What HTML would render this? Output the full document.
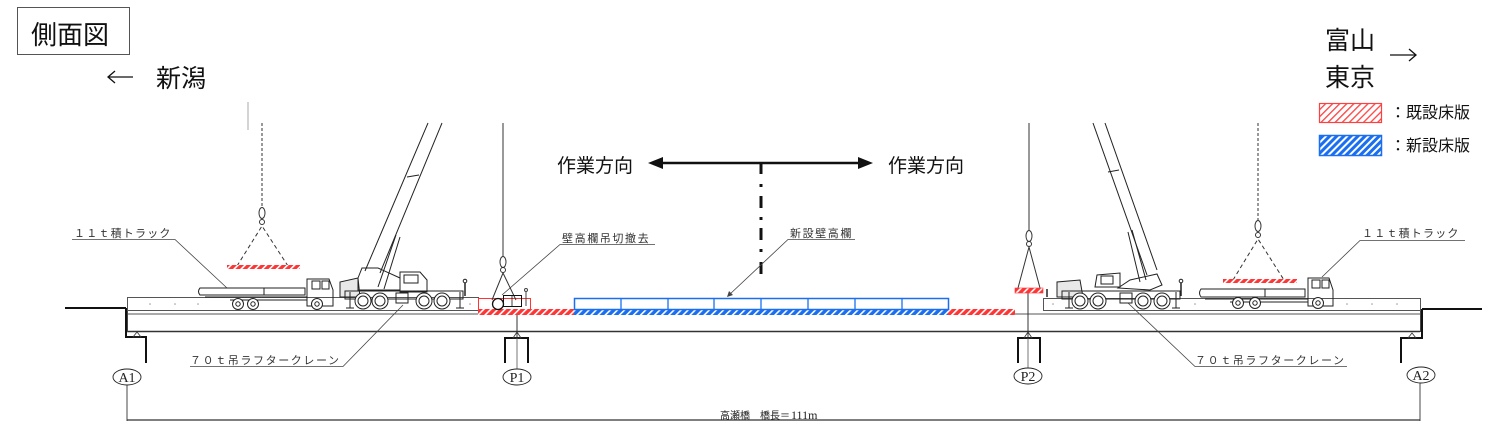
<!DOCTYPE html>
<html><head><meta charset="utf-8">
<style>
html,body{margin:0;padding:0;background:#fff;}
svg{display:block;}
.jp{font-family:"Liberation Sans","Noto Sans CJK JP",sans-serif;}
.sm{font-family:"Liberation Sans","Noto Sans CJK JP",sans-serif;font-size:11px;fill:#333;}
.ser{font-family:"Liberation Serif",serif;font-size:14px;fill:#222;}
</style></head>
<body>
<svg width="1500" height="430" viewBox="0 0 1500 430" xmlns="http://www.w3.org/2000/svg">
<defs>
 <pattern id="rl" width="5" height="5" patternUnits="userSpaceOnUse" patternTransform="rotate(45)">
  <rect width="5" height="5" fill="#fff"/><rect width="1.3" height="5" fill="#ff4040"/>
 </pattern>
 <pattern id="bl" width="5" height="5" patternUnits="userSpaceOnUse" patternTransform="rotate(45)">
  <rect width="5" height="5" fill="#fff"/><rect width="3" height="5" fill="#1a6ff0"/>
 </pattern>
 <pattern id="rd" width="5" height="5" patternUnits="userSpaceOnUse" patternTransform="rotate(45)">
  <rect width="5" height="5" fill="#ff3535"/><rect width="1.6" height="5" fill="#fff"/>
 </pattern>
 <pattern id="bd" width="5" height="5" patternUnits="userSpaceOnUse" patternTransform="rotate(45)">
  <rect width="5" height="5" fill="#1a6ff0"/><rect width="1.6" height="5" fill="#fff"/>
 </pattern>
</defs>
<rect width="1500" height="430" fill="#fff"/>

<!-- title box -->
<rect x="17.5" y="7.5" width="112" height="47" fill="none" stroke="#555" stroke-width="1"/>
<text x="31" y="44" class="jp" font-size="26" fill="#111">側面図</text>

<!-- Niigata -->
<line x1="108" y1="77" x2="133" y2="77" stroke="#111" stroke-width="1.3"/>
<polyline points="115,71 108,77 115,83" fill="none" stroke="#111" stroke-width="1.3"/>
<text x="156" y="87" class="jp" font-size="25" fill="#111">新潟</text>
<line x1="248" y1="102" x2="248" y2="130" stroke="#aaa" stroke-width="1"/>

<!-- Toyama / Tokyo -->
<text x="1325" y="49" class="jp" font-size="25" fill="#111">富山</text>
<text x="1325" y="86" class="jp" font-size="25" fill="#111">東京</text>
<line x1="1390" y1="55" x2="1416" y2="55" stroke="#111" stroke-width="1.3"/>
<polyline points="1409,49 1416,55 1409,61" fill="none" stroke="#111" stroke-width="1.3"/>

<!-- legend -->
<rect x="1319.5" y="103.5" width="62" height="19" fill="url(#rl)" stroke="#ff4040" stroke-width="1.2"/>
<text x="1390" y="118" class="jp" font-size="16" fill="#111">：既設床版</text>
<rect x="1319.5" y="135.5" width="62" height="20" fill="url(#bl)" stroke="#1a6ff0" stroke-width="1.5"/>
<text x="1390" y="151" class="jp" font-size="16" fill="#111">：新設床版</text>

<!-- work direction -->
<text x="557" y="172" class="jp" font-size="19" fill="#111">作業方向</text>
<text x="888" y="172" class="jp" font-size="19" fill="#111">作業方向</text>
<line x1="658" y1="163" x2="864" y2="163" stroke="#111" stroke-width="2.5"/>
<polygon points="648,163 663,157 663,169" fill="#111"/>
<polygon points="873,163 858,157 858,169" fill="#111"/>
<g stroke="#111" stroke-width="3">
 <line x1="761" y1="163" x2="761" y2="174"/>
 <line x1="761" y1="184" x2="761" y2="187"/>
 <line x1="761" y1="196" x2="761" y2="208"/>
 <line x1="761" y1="217" x2="761" y2="220"/>
 <line x1="761" y1="228" x2="761" y2="240"/>
 <line x1="761" y1="249" x2="761" y2="252"/>
 <line x1="761" y1="262" x2="761" y2="274"/>
</g>

<!-- ground lines -->
<line x1="65" y1="308" x2="126" y2="308" stroke="#111" stroke-width="2"/>
<line x1="1422" y1="309" x2="1482" y2="309" stroke="#111" stroke-width="2"/>

<!-- abutments -->
<polyline points="126,308 126,337 146,337 146,363" fill="none" stroke="#111" stroke-width="2"/>
<polyline points="1422,309 1422,338 1401,338 1401,363" fill="none" stroke="#111" stroke-width="2"/>
<polygon points="137,332 133,337 141,337" fill="none" stroke="#333" stroke-width="0.8"/>
<polygon points="1412,333 1408,338 1416,338" fill="none" stroke="#333" stroke-width="0.8"/>

<!-- girder -->
<line x1="127" y1="314" x2="1420" y2="314" stroke="#555" stroke-width="1"/>
<line x1="127" y1="331.5" x2="1420" y2="331.5" stroke="#333" stroke-width="1.5"/>
<line x1="127.5" y1="297" x2="127.5" y2="332" stroke="#444" stroke-width="1"/>
<line x1="1420.5" y1="298" x2="1420.5" y2="332" stroke="#444" stroke-width="1"/>

<!-- left deck slab -->
<rect x="127.5" y="297.5" width="351" height="13" fill="none" stroke="#555" stroke-width="1"/>
<!-- right deck slab -->
<rect x="1043.5" y="298.5" width="377" height="12" fill="none" stroke="#555" stroke-width="1"/>
<g fill="#999">
 <circle cx="150" cy="304" r="0.8"/><circle cx="175" cy="304" r="0.8"/><circle cx="198" cy="304" r="0.8"/>
 <circle cx="470" cy="304" r="0.8"/><circle cx="1053" cy="304" r="0.8"/><circle cx="1195" cy="304" r="0.8"/>
 <circle cx="1347" cy="304" r="0.8"/><circle cx="1372" cy="304" r="0.8"/><circle cx="1397" cy="304" r="0.8"/>
</g>

<!-- piers -->
<line x1="517" y1="310" x2="517" y2="338" stroke="#333" stroke-width="1"/>
<polyline points="505,363 505,338 528,338 528,363" fill="none" stroke="#111" stroke-width="2"/>
<polygon points="517,332 513,338 521,338" fill="none" stroke="#333" stroke-width="0.8"/>
<line x1="517" y1="338" x2="517" y2="369" stroke="#555" stroke-width="0.8"/>

<line x1="1028" y1="293" x2="1028" y2="338" stroke="#333" stroke-width="1"/>
<polyline points="1018,363 1018,338 1040,338 1040,363" fill="none" stroke="#111" stroke-width="2"/>
<polygon points="1028,332 1024,338 1032,338" fill="none" stroke="#333" stroke-width="0.8"/>
<line x1="1028" y1="338" x2="1028" y2="368" stroke="#555" stroke-width="0.8"/>

<!-- pier labels -->
<ellipse cx="127" cy="377" rx="14" ry="8" fill="#fff" stroke="#222" stroke-width="0.9"/>
<text x="127" y="382" class="ser" text-anchor="middle">A1</text>
<ellipse cx="517" cy="377" rx="14" ry="8" fill="#fff" stroke="#222" stroke-width="0.9"/>
<text x="517" y="382" class="ser" text-anchor="middle">P1</text>
<ellipse cx="1028" cy="376" rx="14" ry="8" fill="#fff" stroke="#222" stroke-width="0.9"/>
<text x="1028" y="381" class="ser" text-anchor="middle">P2</text>
<ellipse cx="1421" cy="375" rx="14" ry="8" fill="#fff" stroke="#222" stroke-width="0.9"/>
<text x="1421" y="380" class="ser" text-anchor="middle">A2</text>

<!-- dimension -->
<line x1="127" y1="385" x2="127" y2="421" stroke="#333" stroke-width="0.9"/>
<line x1="1420" y1="383" x2="1420" y2="421" stroke="#333" stroke-width="0.9"/>
<line x1="127" y1="420" x2="1420" y2="420" stroke="#333" stroke-width="1.2"/>
<text x="720" y="419" class="jp" font-size="10" fill="#222">高瀬橋　橋長＝</text>
<text x="791" y="419" font-family="Liberation Serif,serif" font-size="12" fill="#222">111m</text>

<!-- red / blue slabs -->
<rect x="478.5" y="298.5" width="52" height="11.5" fill="none" stroke="#ff3535" stroke-width="1"/>
<rect x="478" y="309" width="96" height="6" fill="url(#rd)"/>
<rect x="948" y="309" width="67" height="6" fill="url(#rd)"/>
<rect x="574" y="309" width="374" height="6" fill="url(#bd)"/>
<rect x="574.5" y="298.5" width="374" height="11" fill="none" stroke="#1a6ff0" stroke-width="1.5"/>
<g stroke="#1a6ff0" stroke-width="1.3">
 <line x1="621" y1="298" x2="621" y2="309"/><line x1="668" y1="298" x2="668" y2="309"/>
 <line x1="714" y1="298" x2="714" y2="309"/><line x1="761" y1="298" x2="761" y2="309"/>
 <line x1="808" y1="298" x2="808" y2="309"/><line x1="855" y1="298" x2="855" y2="309"/>
 <line x1="902" y1="298" x2="902" y2="309"/>
</g>

<!-- labels -->
<text x="74" y="237" class="sm" letter-spacing="1.2">１１ｔ積トラック</text>
<polyline points="72,239.5 175,239.5 227,288" fill="none" stroke="#444" stroke-width="0.8"/>
<text x="1362" y="237" class="sm" letter-spacing="1.2">１１ｔ積トラック</text>
<polyline points="1465,240.5 1360,240.5 1322,277" fill="none" stroke="#444" stroke-width="0.8"/>
<text x="190" y="364" class="sm" letter-spacing="1.6">７０ｔ吊ラフタークレーン</text>
<polyline points="190,366.5 343,366.5 403,305" fill="none" stroke="#444" stroke-width="0.8"/>
<text x="1195" y="364" class="sm" letter-spacing="1.6">７０ｔ吊ラフタークレーン</text>
<polyline points="1347,366.5 1195,366.5 1128,303" fill="none" stroke="#444" stroke-width="0.8"/>
<text x="562" y="242" class="sm" letter-spacing="1.6">壁高欄吊切撤去</text>
<polyline points="655,244.5 560,244.5 502,295" fill="none" stroke="#444" stroke-width="0.8"/>
<text x="790" y="237" class="sm" letter-spacing="1.6">新設壁高欄</text>
<polyline points="855,239.5 788,239.5 729,295" fill="none" stroke="#444" stroke-width="0.8"/>
<polygon points="727,297 729,291 733,295" fill="#444"/>

<!-- left hook & load -->
<line x1="262" y1="123" x2="262" y2="207" stroke="#333" stroke-width="1" stroke-dasharray="3,2"/>
<ellipse cx="262" cy="213" rx="3" ry="5.5" fill="none" stroke="#333" stroke-width="1"/>
<circle cx="262" cy="222" r="2.5" fill="none" stroke="#333" stroke-width="1"/>
<polyline points="237,266 262,226 288,266" fill="none" stroke="#333" stroke-width="1" stroke-dasharray="4,3"/>
<rect x="227" y="265" width="73" height="4" fill="url(#rd)"/>

<!-- right hook & load -->
<line x1="1258" y1="123" x2="1258" y2="220" stroke="#333" stroke-width="1" stroke-dasharray="3,2"/>
<ellipse cx="1258" cy="226" rx="3" ry="5.5" fill="none" stroke="#333" stroke-width="1"/>
<circle cx="1258" cy="235" r="2.5" fill="none" stroke="#333" stroke-width="1"/>
<polyline points="1233,280 1258,239 1284,280" fill="none" stroke="#333" stroke-width="1" stroke-dasharray="4,3"/>
<rect x="1223" y="279" width="74" height="4" fill="url(#rd)"/>

<!-- P1 hook & remover -->
<line x1="503" y1="123" x2="503" y2="256" stroke="#333" stroke-width="1"/>
<ellipse cx="503" cy="262" rx="3" ry="5.5" fill="none" stroke="#333" stroke-width="1"/>
<circle cx="503" cy="270" r="2.5" fill="none" stroke="#333" stroke-width="1"/>
<polyline points="492,300 503,273 516,300" fill="none" stroke="#333" stroke-width="1"/>
<circle cx="498" cy="304" r="5.5" fill="#fff" stroke="#111" stroke-width="1.3"/>
<rect x="503.5" y="295.5" width="18" height="11" fill="none" stroke="#111" stroke-width="1"/>
<line x1="512" y1="296" x2="512" y2="306" stroke="#111" stroke-width="0.8"/>
<line x1="526" y1="292" x2="526" y2="306" stroke="#444" stroke-width="1"/>
<circle cx="526" cy="290" r="1.5" fill="none" stroke="#444"/>

<!-- P2 hook & load -->
<line x1="1029" y1="123" x2="1029" y2="230" stroke="#333" stroke-width="1"/>
<ellipse cx="1029" cy="236" rx="3" ry="5.5" fill="none" stroke="#333" stroke-width="1"/>
<circle cx="1029" cy="244" r="2.5" fill="none" stroke="#333" stroke-width="1"/>
<polyline points="1018,288 1029,247 1040,288" fill="none" stroke="#333" stroke-width="1"/>
<rect x="1015" y="288" width="28" height="5" fill="url(#rd)" stroke="#ff3535" stroke-width="0.6"/>

<!-- left truck -->
<g fill="none" stroke="#222" stroke-width="1">
 <path d="M200,288 L305,288 L305,295 L200,295 Q197,291.5 200,288 Z"/>
 <line x1="264" y1="288" x2="264" y2="295"/>
 <line x1="205" y1="297" x2="307" y2="297"/>
 <line x1="230" y1="300" x2="307" y2="300"/>
 <path d="M307,306 L307,279 L329,279 L333,290 L333,306 Z"/>
 <rect x="312" y="281" width="8" height="8"/><rect x="322" y="281" width="7" height="8"/>
 <circle cx="238" cy="304" r="5.5" fill="#fff"/><circle cx="238" cy="304" r="2.2"/>
 <circle cx="253" cy="304" r="5.5" fill="#fff"/><circle cx="253" cy="304" r="2.2"/>
 <circle cx="317" cy="304" r="5.5" fill="#fff"/><circle cx="317" cy="304" r="2.2"/>
</g>

<!-- right truck -->
<g fill="none" stroke="#222" stroke-width="1">
 <path d="M1201,289 L1305,289 L1305,297 L1201,297 Q1198,293 1201,289 Z"/>
 <line x1="1265" y1="289" x2="1265" y2="297"/>
 <line x1="1205" y1="299" x2="1308" y2="299"/>
 <line x1="1230" y1="302" x2="1308" y2="302"/>
 <path d="M1308,306 L1308,278 L1329,278 L1333,290 L1333,306 Z"/>
 <rect x="1312" y="280" width="8" height="8"/><rect x="1322" y="280" width="7" height="8"/>
 <circle cx="1238" cy="303" r="5.5" fill="#fff"/><circle cx="1238" cy="303" r="2.2"/>
 <circle cx="1255" cy="303" r="5.5" fill="#fff"/><circle cx="1255" cy="303" r="2.2"/>
 <circle cx="1318" cy="303" r="5.5" fill="#fff"/><circle cx="1318" cy="303" r="2.2"/>
</g>

<!-- left crane -->
<g fill="none" stroke="#222" stroke-width="1">
 <line x1="365" y1="271" x2="428" y2="123"/>
 <line x1="380" y1="273" x2="442" y2="123"/>
 <line x1="407" y1="177" x2="419" y2="175"/>
 <line x1="378" y1="287" x2="396" y2="235"/>
 <line x1="384" y1="289" x2="400" y2="237"/>
 <path d="M340,297 L340,282 L358,278 L360,297 Z" fill="#e8e8e8"/>
 <path d="M358,278 L362,268 L378,268 L400,278 L400,290 L358,290 Z"/>
 <path d="M400,292 L400,272 L420,272 L427,280 L427,292 Z"/>
 <rect x="404" y="275" width="14" height="8"/>
 <rect x="345" y="291" width="118" height="8"/>
 <line x1="350" y1="292" x2="350" y2="308"/><line x1="346" y1="308" x2="354" y2="308"/>
 <line x1="460" y1="292" x2="460" y2="308"/><line x1="456" y1="308" x2="464" y2="308"/>
 <line x1="465" y1="283" x2="465" y2="296" stroke-width="1.5"/>
 <circle cx="465" cy="281" r="1.8"/>
 <circle cx="363" cy="301" r="8" fill="#fff"/><circle cx="363" cy="301" r="5"/>
 <circle cx="380" cy="301" r="8" fill="#fff"/><circle cx="380" cy="301" r="5"/>
 <circle cx="424" cy="301" r="8" fill="#fff"/><circle cx="424" cy="301" r="5"/>
 <circle cx="442" cy="301" r="8" fill="#fff"/><circle cx="442" cy="301" r="5"/>
 <rect x="396" y="293" width="12" height="10"/>
</g>

<!-- right crane -->
<g fill="none" stroke="#222" stroke-width="1">
 <line x1="1093" y1="123" x2="1147" y2="275"/>
 <line x1="1105" y1="123" x2="1157" y2="270"/>
 <line x1="1108" y1="172" x2="1119" y2="170"/>
 <line x1="1128" y1="232" x2="1140" y2="282"/>
 <line x1="1132" y1="230" x2="1146" y2="280"/>
 <path d="M1057,297 L1057,282 L1080,280 L1083,297 Z" fill="#e8e8e8"/>
 <path d="M1095,287 L1097,275 L1120,273 L1120,287 Z"/>
 <rect x="1101" y="276" width="12" height="8"/>
 <path d="M1118,288 L1130,280 L1157,274 L1162,285 L1150,290 Z"/>
 <rect x="1062" y="291" width="118" height="8"/>
 <line x1="1069" y1="292" x2="1069" y2="308"/><line x1="1065" y1="308" x2="1073" y2="308"/>
 <line x1="1176" y1="292" x2="1176" y2="308"/><line x1="1172" y1="308" x2="1180" y2="308"/>
 <line x1="1181" y1="283" x2="1181" y2="296" stroke-width="1.5"/>
 <circle cx="1181" cy="281" r="1.8"/>
 <line x1="1047" y1="289" x2="1047" y2="297" stroke-width="1.5"/>
 <circle cx="1080" cy="301" r="8" fill="#fff"/><circle cx="1080" cy="301" r="5"/>
 <circle cx="1098" cy="301" r="8" fill="#fff"/><circle cx="1098" cy="301" r="5"/>
 <circle cx="1143" cy="301" r="8" fill="#fff"/><circle cx="1143" cy="301" r="5"/>
 <circle cx="1162" cy="301" r="8" fill="#fff"/><circle cx="1162" cy="301" r="5"/>
 <rect x="1120" y="293" width="12" height="10"/>
</g>
</svg>
</body></html>
